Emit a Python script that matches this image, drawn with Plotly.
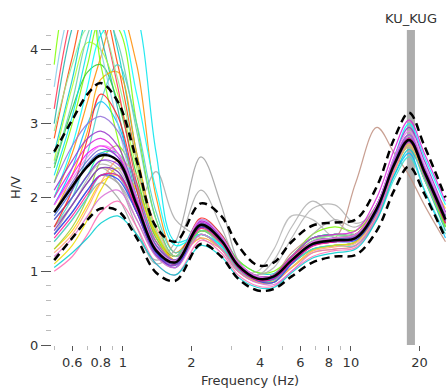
import math
import plotly.graph_objects as go

# ---- data ----
freq_hz = [0.5, 0.6, 0.7, 0.8, 0.95, 1.15, 1.4, 1.7, 2.2, 2.7, 3.2, 3.9, 4.6, 5.5,
           6.8, 8.5, 10.5, 13, 15.5, 18, 21, 26]

hv_mean = [1.8, 2.15, 2.42, 2.57, 2.5, 1.9, 1.28, 1.12, 1.63, 1.42, 1.08, 0.9, 0.93, 1.15,
           1.37, 1.42, 1.45, 1.85, 2.45, 2.78, 2.35, 1.7]
hv_upper = [2.62, 3.05, 3.4, 3.55, 3.3, 2.5, 1.6, 1.4, 1.92, 1.75, 1.35, 1.08, 1.12, 1.4,
            1.62, 1.66, 1.7, 2.15, 2.8, 3.15, 2.7, 2.0]
hv_lower = [1.15, 1.45, 1.7, 1.85, 1.82, 1.45, 0.98, 0.87, 1.37, 1.2, 0.9, 0.74, 0.76, 0.93,
            1.12, 1.2, 1.22, 1.55, 2.1, 2.42, 2.05, 1.45]

window_hv = [
    [2.6, 3.6, 4.5, 4.8, 4.0, 2.6, 1.5, 1.2, 1.7, 1.5, 1.15, 0.98, 0.97, 1.2, 1.45, 1.5, 1.5, 1.9, 2.5, 2.85, 2.4, 1.75],
    [2.2, 3.0, 3.8, 4.4, 4.3, 3.0, 1.7, 1.2, 1.55, 1.45, 1.15, 0.98, 1.0, 1.2, 1.5, 1.6, 1.55, 1.9, 2.4, 2.7, 2.3, 1.8],
    [1.3, 1.55, 1.9, 2.2, 2.3, 1.9, 1.4, 1.2, 1.5, 1.3, 1.02, 0.88, 0.88, 1.05, 1.25, 1.3, 1.35, 1.75, 2.35, 2.7, 2.35, 1.85],
    [2.0, 2.6, 3.3, 3.9, 4.6, 3.8, 2.0, 1.25, 1.6, 1.4, 1.05, 0.9, 0.9, 1.1, 1.3, 1.35, 1.4, 1.8, 2.4, 2.75, 2.3, 1.7],
    [3.0, 4.3, 4.8, 4.2, 3.2, 2.0, 1.3, 1.15, 1.65, 1.42, 1.08, 0.92, 0.95, 1.2, 1.4, 1.45, 1.5, 1.85, 2.4, 2.75, 2.25, 1.55],
    [1.4, 1.7, 2.0, 2.2, 2.0, 1.5, 1.15, 1.4, 2.55, 1.9, 1.15, 0.88, 0.85, 1.1, 1.4, 1.5, 1.5, 1.85, 2.4, 2.7, 2.3, 1.7],
    [2.4, 3.2, 3.7, 3.8, 3.3, 2.3, 1.45, 1.2, 1.62, 1.45, 1.1, 0.93, 0.95, 1.2, 1.45, 1.5, 1.5, 1.85, 2.45, 2.8, 2.3, 1.6],
    [1.6, 1.9, 2.2, 2.4, 2.3, 1.8, 1.25, 1.1, 1.55, 1.35, 1.05, 0.9, 0.95, 1.25, 1.45, 1.45, 2.2, 2.95, 2.6, 2.3, 1.9, 1.4],
    [1.9, 2.4, 3.0, 3.3, 3.0, 2.1, 1.35, 1.1, 1.6, 1.42, 1.1, 0.93, 0.95, 1.2, 1.4, 1.45, 1.45, 1.8, 2.3, 2.6, 2.1, 1.45],
    [1.5, 1.8, 2.1, 2.3, 2.2, 1.9, 2.35, 1.7, 1.45, 1.3, 1.05, 0.9, 0.9, 1.15, 1.5, 1.7, 1.6, 1.9, 2.4, 2.7, 2.3, 1.7],
    [1.3, 1.6, 2.0, 2.5, 2.7, 2.2, 1.45, 1.15, 1.5, 1.3, 1.0, 0.85, 0.85, 1.1, 1.3, 1.35, 1.4, 1.8, 2.4, 2.75, 2.35, 1.75],
    [2.8, 3.9, 4.6, 4.6, 3.8, 2.5, 1.5, 1.2, 1.65, 1.42, 1.05, 0.88, 0.9, 1.1, 1.35, 1.4, 1.45, 1.85, 2.5, 2.85, 2.4, 1.7],
    [1.7, 2.0, 2.3, 2.45, 2.35, 1.8, 1.25, 1.1, 1.55, 1.35, 1.05, 0.95, 1.15, 1.6, 1.95, 1.7, 1.5, 1.8, 2.4, 2.7, 2.3, 1.7],
    [1.4, 1.7, 2.0, 2.3, 2.3, 1.8, 1.25, 1.1, 1.55, 1.35, 1.02, 0.86, 0.88, 1.1, 1.3, 1.35, 1.35, 1.7, 2.25, 2.55, 2.1, 1.5],
    [1.6, 2.0, 2.6, 3.3, 3.8, 3.0, 1.8, 1.25, 1.5, 1.32, 1.02, 0.88, 0.88, 1.1, 1.3, 1.35, 1.4, 1.85, 2.45, 2.8, 2.35, 1.7],
    [2.5, 3.5, 4.1, 4.0, 3.4, 2.4, 1.5, 1.15, 1.62, 1.42, 1.08, 0.9, 0.9, 1.15, 1.4, 1.45, 1.5, 1.9, 2.5, 2.85, 2.4, 1.75],
    [1.5, 1.8, 2.1, 2.3, 2.2, 1.7, 1.2, 1.05, 1.55, 1.35, 1.05, 0.95, 1.05, 1.45, 1.85, 1.9, 1.65, 1.85, 2.4, 2.75, 2.3, 1.65],
    [1.8, 2.3, 2.9, 3.6, 3.7, 2.6, 1.55, 1.15, 1.55, 1.38, 1.06, 0.9, 0.92, 1.15, 1.35, 1.4, 1.45, 1.85, 2.4, 2.75, 2.3, 1.65],
    [3.5, 4.6, 4.8, 4.0, 3.0, 2.0, 1.35, 1.15, 1.65, 1.45, 1.1, 0.93, 0.95, 1.2, 1.4, 1.45, 1.5, 1.9, 2.5, 2.85, 2.35, 1.6],
    [1.7, 2.0, 2.3, 2.6, 2.6, 2.0, 1.35, 1.15, 1.6, 1.42, 1.1, 0.93, 0.95, 1.2, 1.45, 1.5, 1.5, 1.9, 2.45, 2.75, 2.25, 1.6],
    [1.5, 1.9, 2.2, 2.4, 2.2, 1.6, 1.1, 1.3, 2.1, 1.6, 1.1, 0.85, 0.85, 1.1, 1.4, 1.5, 1.5, 1.85, 2.4, 2.75, 2.35, 1.7],
    [1.0, 1.2, 1.5, 1.8, 1.95, 1.6, 1.1, 0.95, 1.42, 1.25, 0.95, 0.8, 0.8, 1.0, 1.2, 1.28, 1.32, 1.72, 2.35, 2.72, 2.3, 1.75],
    [2.3, 3.1, 4.0, 4.7, 5.0, 4.5, 2.6, 1.4, 1.5, 1.35, 1.05, 0.9, 0.9, 1.12, 1.35, 1.4, 1.45, 1.85, 2.45, 2.8, 2.35, 1.7],
    [3.2, 4.5, 5.0, 4.5, 3.5, 2.2, 1.4, 1.15, 1.6, 1.4, 1.06, 0.9, 0.92, 1.15, 1.35, 1.4, 1.45, 1.8, 2.4, 2.75, 2.3, 1.65],
    [1.1, 1.35, 1.7, 2.1, 2.4, 2.1, 1.5, 1.2, 1.45, 1.3, 1.0, 0.86, 0.86, 1.05, 1.28, 1.35, 1.4, 1.8, 2.4, 2.7, 2.3, 1.75],
    [2.9, 3.8, 4.3, 4.3, 3.6, 2.5, 1.55, 1.2, 1.58, 1.4, 1.08, 0.92, 0.93, 1.18, 1.42, 1.48, 1.5, 1.88, 2.45, 2.78, 2.3, 1.62],
    [1.05, 1.25, 1.45, 1.65, 1.75, 1.5, 1.1, 0.95, 1.35, 1.2, 0.92, 0.78, 0.78, 0.98, 1.18, 1.25, 1.3, 1.7, 2.3, 2.65, 2.25, 1.6],
    [2.0, 2.7, 3.5, 4.2, 4.4, 3.4, 2.1, 1.35, 1.5, 1.35, 1.05, 0.9, 0.92, 1.15, 1.4, 1.45, 1.5, 1.9, 2.55, 3.0, 2.55, 1.9],
    [1.6, 1.9, 2.25, 2.5, 2.4, 1.9, 1.3, 1.1, 1.5, 1.3, 1.0, 1.0, 1.3, 1.75, 1.7, 1.45, 1.45, 1.85, 2.4, 2.7, 2.25, 1.6],
    [3.8, 4.9, 4.8, 3.8, 2.8, 1.9, 1.3, 1.12, 1.55, 1.38, 1.05, 0.9, 0.92, 1.15, 1.38, 1.42, 1.45, 1.85, 2.4, 2.72, 2.28, 1.6],
    [1.25, 1.5, 1.85, 2.2, 2.5, 2.3, 1.6, 1.2, 1.45, 1.3, 1.0, 0.85, 0.86, 1.05, 1.27, 1.33, 1.38, 1.78, 2.38, 2.72, 2.3, 1.7],
    [2.45, 3.3, 4.2, 4.6, 4.1, 2.9, 1.7, 1.2, 1.55, 1.38, 1.06, 0.9, 0.92, 1.15, 1.38, 1.43, 1.46, 1.86, 2.45, 2.8, 2.34, 1.68],
    [1.9, 2.3, 2.6, 2.7, 2.55, 1.95, 1.3, 1.1, 1.68, 1.45, 1.1, 0.9, 0.9, 1.12, 1.35, 1.4, 1.45, 1.85, 2.5, 2.85, 2.4, 1.7],
    [1.7, 2.0, 2.3, 2.5, 2.45, 1.85, 1.25, 1.1, 1.63, 1.42, 1.08, 0.9, 0.9, 1.15, 1.4, 1.45, 1.48, 1.9, 2.5, 2.8, 2.3, 1.65],
    [1.6, 2.1, 2.8, 3.4, 3.1, 2.1, 1.3, 1.1, 1.72, 1.5, 1.12, 0.93, 0.95, 1.2, 1.4, 1.45, 1.5, 1.9, 2.45, 2.8, 2.35, 1.65],
    [1.5, 1.8, 2.1, 2.3, 2.25, 1.8, 1.25, 1.05, 1.6, 1.4, 1.05, 0.87, 0.85, 1.1, 1.35, 1.4, 1.42, 1.8, 2.45, 2.8, 2.4, 1.75],
    [1.2, 1.45, 1.75, 2.0, 2.1, 1.7, 1.2, 1.05, 1.5, 1.3, 1.0, 0.84, 0.82, 1.0, 1.25, 1.3, 1.35, 1.75, 2.4, 2.75, 2.4, 1.8],
    [2.1, 2.5, 2.8, 2.9, 2.7, 2.0, 1.35, 1.15, 1.68, 1.47, 1.12, 0.93, 0.93, 1.15, 1.38, 1.42, 1.47, 1.9, 2.55, 2.95, 2.5, 1.8],
    [1.8, 2.2, 2.5, 2.65, 2.55, 1.95, 1.3, 1.12, 1.65, 1.43, 1.08, 0.9, 0.92, 1.15, 1.37, 1.42, 1.45, 1.85, 2.45, 2.8, 2.35, 1.7],
    [2.0, 2.4, 2.7, 2.8, 2.6, 1.95, 1.3, 1.12, 1.66, 1.45, 1.1, 0.93, 0.95, 1.2, 1.45, 1.5, 1.55, 2.0, 2.65, 3.05, 2.6, 1.95],
    [1.55, 1.9, 2.2, 2.4, 2.35, 1.8, 1.22, 1.08, 1.6, 1.4, 1.06, 0.88, 0.9, 1.12, 1.36, 1.4, 1.44, 1.82, 2.42, 2.76, 2.33, 1.68],
    [2.2, 2.7, 3.0, 3.1, 2.9, 2.15, 1.4, 1.15, 1.65, 1.45, 1.1, 0.92, 0.93, 1.16, 1.4, 1.45, 1.48, 1.88, 2.5, 2.85, 2.42, 1.75],
    [1.45, 1.75, 2.05, 2.3, 2.3, 1.85, 1.3, 1.12, 1.58, 1.38, 1.05, 0.88, 0.9, 1.12, 1.34, 1.4, 1.44, 1.84, 2.46, 2.8, 2.38, 1.72],
    [1.75, 2.1, 2.45, 2.6, 2.5, 1.9, 1.28, 1.1, 1.62, 1.42, 1.07, 0.9, 0.91, 1.14, 1.36, 1.41, 1.44, 1.84, 2.44, 2.78, 2.36, 1.72],
    [1.9, 2.25, 2.55, 2.7, 2.6, 2.0, 1.32, 1.14, 1.7, 1.48, 1.12, 0.93, 0.94, 1.17, 1.4, 1.45, 1.5, 1.9, 2.55, 2.9, 2.45, 1.78],
]

window_colors = [
    "#00cccc", "#7cfc00", "#ffd700", "#ff8c00", "#20b2aa", "#a0a0a0", "#32cd32", "#c09080",
    "#00bfff", "#aaaaaa", "#9acd32", "#ff4500", "#b0b0b0", "#40e0d0", "#48d1cc", "#adff2f",
    "#b0b0b0", "#ffa500", "#87ceeb", "#00fa9a", "#a8a8a8", "#ff69b4", "#00e5ee", "#ff3050",
    "#eedd00", "#90ee90", "#00ced1", "#00ffff", "#b4b4b4", "#7fff00", "#ffa07a", "#66cdaa",
    "#ff00ff", "#8a2be2", "#ff2020", "#2040ff", "#da70d6", "#9932cc", "#6a5acd", "#da20da",
    "#7b2fbf", "#9370db", "#ff1493", "#4169e1", "#ee82ee",
]

x_tick_vals = [0.6, 0.8, 1, 2, 4, 6, 8, 10, 20]
x_tick_text = ["0.6", "0.8", "1", "2", "4", "6", "8", "10", "20"]
y_tick_vals = [0, 1, 2, 3, 4]
peak_band_hz = [17.6, 19.1]
station = "KU_KUG"

# ---- figure ----
fig = go.Figure()

fig.add_vrect(x0=peak_band_hz[0], x1=peak_band_hz[1], fillcolor="#adadad",
              line_width=0, opacity=1, layer="below")

for vals, col in zip(window_hv, window_colors):
    fig.add_trace(go.Scatter(x=freq_hz, y=vals, mode="lines",
                             line=dict(color=col, width=1.2, shape="spline"),
                             opacity=0.85, hoverinfo="skip", showlegend=False))

for vals in (hv_upper, hv_lower):
    fig.add_trace(go.Scatter(x=freq_hz, y=vals, mode="lines",
                             line=dict(color="black", width=2.5, dash="8px,5px", shape="spline"),
                             showlegend=False))
fig.add_trace(go.Scatter(x=freq_hz, y=hv_mean, mode="lines",
                         line=dict(color="black", width=2.5, shape="spline"),
                         showlegend=False))

fig.add_annotation(x=math.log10(18.3), y=1.0, xref="x", yref="paper",
                   text=station, showarrow=False, yanchor="bottom", yshift=2,
                   font=dict(family="DejaVu Sans", size=13, color="#333333"))
fig.add_annotation(x=0.5, y=0, xref="paper", yref="paper",
                   text="Frequency (Hz)", showarrow=False, yanchor="middle", yshift=-35,
                   font=dict(family="DejaVu Sans", size=13, color="#333333"))

fig.update_layout(
    width=447, height=389,
    margin=dict(l=52, r=0, t=30, b=44),
    paper_bgcolor="white", plot_bgcolor="white",
    font=dict(family="DejaVu Sans", size=13, color="#333333"),
)
fig.update_xaxes(type="log", range=[math.log10(0.489), math.log10(26.4)],
                 tickvals=x_tick_vals, ticktext=x_tick_text,
                 ticks="outside", ticklen=5, tickcolor="#555555",
                 minor=dict(ticks="outside", ticklen=4, tickcolor="#bbbbbb",
                            tickvals=[0.5, 0.7, 0.9, 3, 5, 7, 9]),
                 showgrid=False, zeroline=False, showline=False)
fig.update_yaxes(range=[0, 4.27], tickvals=y_tick_vals,
                 ticks="outside", ticklen=10, tickcolor="#555555",
                 minor=dict(ticks="outside", ticklen=5, tickcolor="#bbbbbb", dtick=0.2),
                 showgrid=False, zeroline=False, showline=False,
                 title=dict(text="H/V", standoff=6, font=dict(size=13)))

fig.write_html("out.html", post_script="document.body.style.margin='0';",
               config={"displayModeBar": False})
